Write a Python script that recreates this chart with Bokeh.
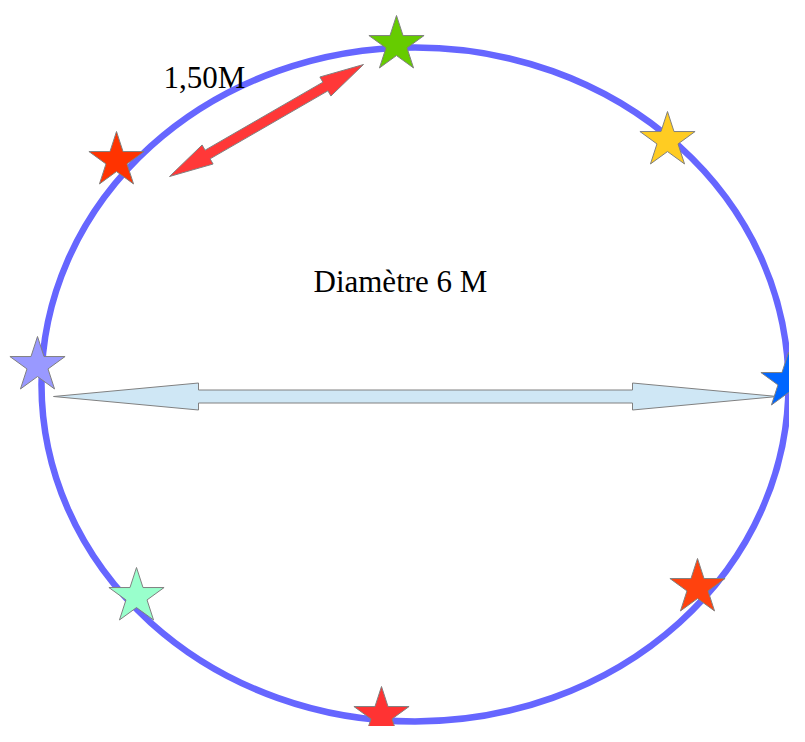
import numpy as np
from bokeh.plotting import figure
from bokeh.models import Range1d
from bokeh.core.properties import value
from bokeh.embed import file_html
from bokeh.resources import INLINE

# ---- data (image pixel coordinates, y downward) ----
ring_center = [414.5, 384.0]
ring_size = [747.0, 674.0]

star_x = [396, 116, 667, 37, 788, 136, 697, 381]
star_y = [44, 160, 140, 365, 381, 596, 587, 715]
star_colors = ["#66cc00", "#ff3300", "#ffcc22", "#9999ff",
               "#0066ff", "#99ffcc", "#ff420e", "#ff3333"]

diam_arrow = [(53, 396), (777, 396)]
arc_arrow = [(169, 176), (363, 64)]

labels = ["1,50M", "Diamètre 6 M"]
label_x = [163, 313]
label_y = [77, 281]

W, H = 789, 726
p = figure(width=W, height=H, output_backend="svg", toolbar_location=None,
           x_range=Range1d(0, W), y_range=Range1d(H, 0),
           min_border=0, outline_line_color=None)
p.axis.visible = False
p.grid.visible = False
p.background_fill_color = "white"
p.border_fill_color = "white"


def double_arrow(a, b, shaft_w, head_w, head_len):
    (x0, y0), (x1, y1) = a, b
    d = np.array([x1 - x0, y1 - y0], float)
    L = np.hypot(*d)
    u = d / L
    n = np.array([-u[1], u[0]])
    P0 = np.array([x0, y0], float)
    P1 = np.array([x1, y1], float)
    B0 = P0 + u * head_len
    B1 = P1 - u * head_len
    pts = [P0,
           B0 + n * head_w / 2, B0 + n * shaft_w / 2,
           B1 + n * shaft_w / 2, B1 + n * head_w / 2,
           P1,
           B1 - n * head_w / 2, B1 - n * shaft_w / 2,
           B0 - n * shaft_w / 2, B0 - n * head_w / 2]
    xs = [q[0] for q in pts]
    ys = [q[1] for q in pts]
    return xs, ys


p.ellipse(x=[ring_center[0]], y=[ring_center[1]], width=[ring_size[0]],
          height=[ring_size[1]], fill_color=None, line_color="#6666ff",
          line_width=6.5)

xs, ys = double_arrow(*diam_arrow, shaft_w=13, head_w=27, head_len=145)
p.patch(xs, ys, fill_color="#cfe7f5", line_color="#808080", line_width=1)

xs, ys = double_arrow(*arc_arrow, shaft_w=10, head_w=22, head_len=44)
p.patch(xs, ys, fill_color="#ff3838", line_color="#808080", line_width=1)

p.scatter(x=star_x, y=star_y, marker="star", size=58, fill_color=star_colors,
          line_color="#808080", line_width=1)

p.text(x=label_x, y=label_y, text=labels, text_font=value("Liberation Serif"),
       text_font_size="31px", text_color="black", text_align="left",
       text_baseline="alphabetic")

open("out.html", "w").write(file_html(p, INLINE))
